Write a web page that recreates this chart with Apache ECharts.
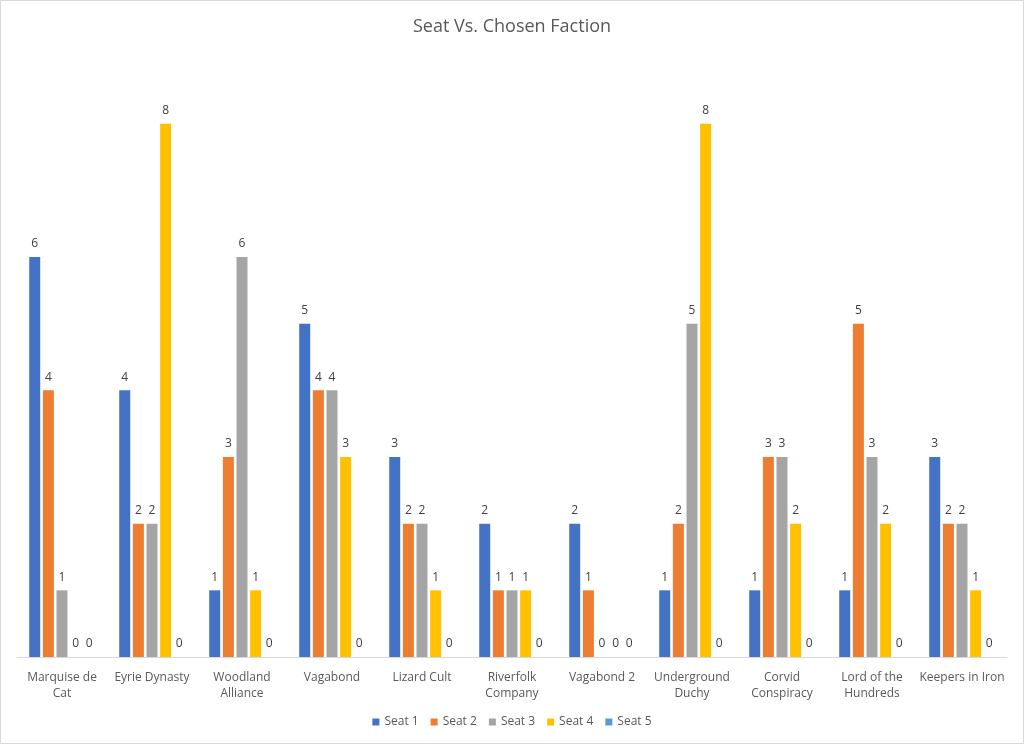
<!DOCTYPE html>
<html>
<head>
<meta charset="utf-8">
<script src="https://cdn.jsdelivr.net/npm/echarts@6/dist/echarts.min.js"></script>
<style>
html,body{margin:0;padding:0;background:#fff;}
#chart{width:1022px;height:742px;border:1px solid #d9d9d9;}
</style>
</head>
<body>
<div id="chart"></div>
<script>
const categories = ["Marquise de Cat","Eyrie Dynasty","Woodland Alliance","Vagabond","Lizard Cult","Riverfolk Company","Vagabond 2","Underground Duchy","Corvid Conspiracy","Lord of the Hundreds","Keepers in Iron"];
const tickLabels = ["Marquise de\nCat","Eyrie Dynasty","Woodland\nAlliance","Vagabond","Lizard Cult","Riverfolk\nCompany","Vagabond 2","Underground\nDuchy","Corvid\nConspiracy","Lord of the\nHundreds","Keepers in Iron"];
const seriesNames = ["Seat 1","Seat 2","Seat 3","Seat 4","Seat 5"];
const seat1 = [6,4,1,5,3,2,2,1,1,1,3];
const seat2 = [4,2,3,4,2,1,1,2,3,5,2];
const seat3 = [1,2,6,4,2,1,0,5,3,3,2];
const seat4 = [0,8,1,3,1,1,0,8,2,2,1];
const seat5 = [0,0,0,0,0,0,0,0,0,0,0];
const seriesData = [seat1,seat2,seat3,seat4,seat5];
const colors = ["#4472C4","#ED7D31","#A5A5A5","#FFC000","#5B9BD5"];

const chart = echarts.init(document.getElementById('chart'));
const font = "'Open Sans', sans-serif";
chart.setOption({
  animation:false,
  color: colors,
  title:{
    text:"Seat Vs. Chosen Faction",
    left:'center', top:12,
    textStyle:{fontFamily:font,fontSize:18,fontWeight:'normal',color:'#595959'}
  },
  legend:{
    bottom:10, left:'center',
    itemWidth:7, itemHeight:7, itemGap:12,
    icon:'rect',
    textStyle:{fontFamily:font,fontSize:12,color:'#595959'},
    data: seriesNames
  },
  grid:{left:16, right:16, top:56, bottom:86, containLabel:false},
  xAxis:{
    type:'category',
    data: categories,
    axisLine:{lineStyle:{color:'#d9d9d9',width:1}},
    axisTick:{show:false},
    axisLabel:{
      interval:0, margin:13,
      fontFamily:font, fontSize:12, color:'#595959', lineHeight:16,
      formatter:(v,i)=>tickLabels[i]
    }
  },
  yAxis:{
    type:'value', min:0, max:9, interval:1,
    show:false, splitLine:{show:false}
  },
  series: seriesNames.map((n,k)=>({
    name:n, type:'bar', data: seriesData[k],
    barWidth:11, barGap:'24%',
    label:{show:true, position:'top', distance:7, fontFamily:font, fontSize:12, color:'#404040'}
  }))
});
</script>
</body>
</html>
